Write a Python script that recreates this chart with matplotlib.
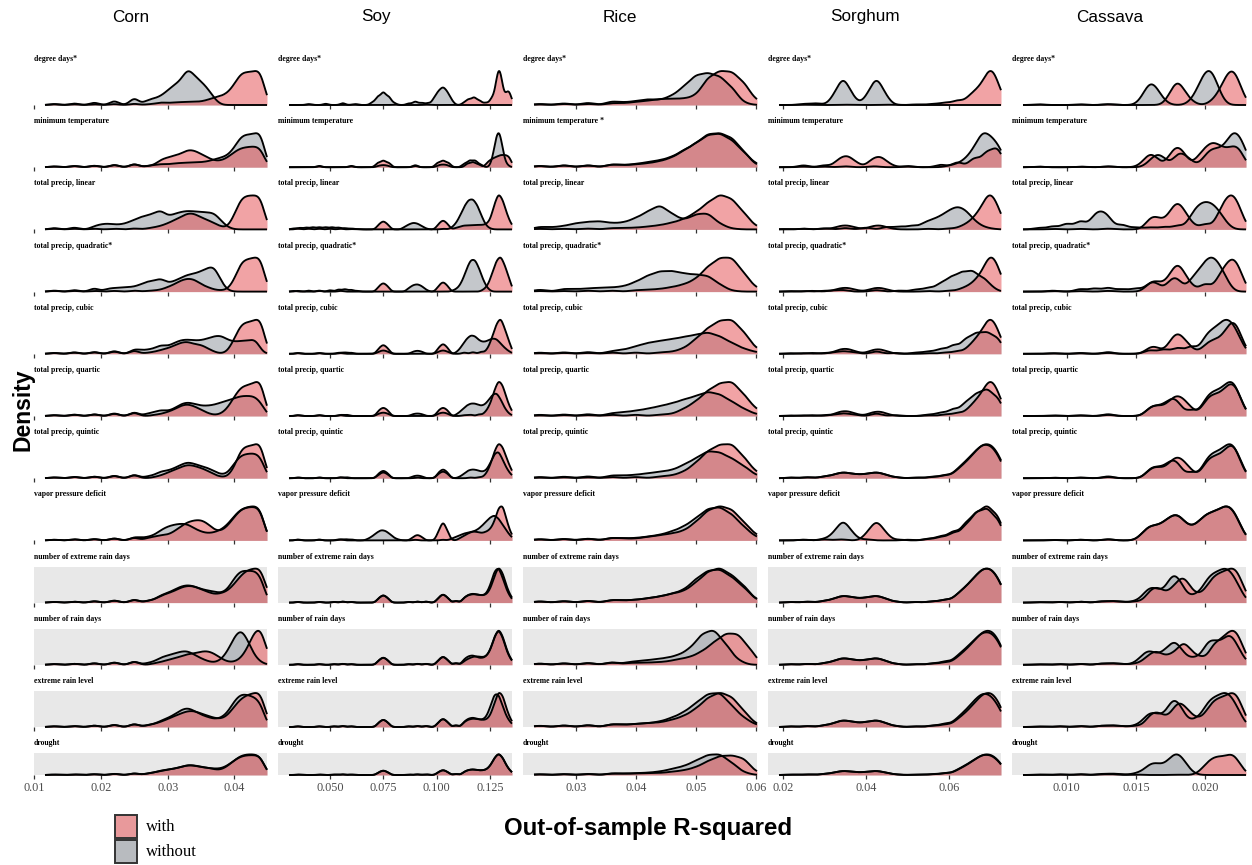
import numpy as np
import matplotlib
matplotlib.use("Agg")
import matplotlib.pyplot as plt
from matplotlib.patches import Rectangle

# ---------------------------------------------------------------------------
# Data: out-of-sample R-squared of the model runs, as (R-squared, number of runs)
# for every crop x weather variable, with and without the variable.
# ---------------------------------------------------------------------------
CROPS = ["Corn", "Soy", "Rice", "Sorghum", "Cassava"]
VARIABLES = [
    "degree days*", "minimum temperature", "total precip, linear",
    "total precip, quadratic*", "total precip, cubic", "total precip, quartic",
    "total precip, quintic", "vapor pressure deficit",
    "number of extreme rain days", "number of rain days",
    "extreme rain level", "drought",
]
RICE_MINTEMP_LABEL = "minimum temperature *"
EXTREME_VARIABLES = VARIABLES[8:]

X_TICKS = {
    "Corn": [0.01, 0.02, 0.03, 0.04],
    "Soy": [0.050, 0.075, 0.100, 0.125],
    "Rice": [0.03, 0.04, 0.05, 0.06],
    "Sorghum": [0.02, 0.04, 0.06],
    "Cassava": [0.010, 0.015, 0.020],
}
X_TICK_LABELS = {
    "Corn": ["0.01", "0.02", "0.03", "0.04"],
    "Soy": ["0.050", "0.075", "0.100", "0.125"],
    "Rice": ["0.03", "0.04", "0.05", "0.06"],
    "Sorghum": ["0.02", "0.04", "0.06"],
    "Cassava": ["0.010", "0.015", "0.020"],
}
# range covered by the runs of each crop
R2_RANGE = {
    "Corn": (0.0116, 0.0449),
    "Soy": (0.0308, 0.1353),
    "Rice": (0.0230, 0.0602),
    "Sorghum": (0.0191, 0.0724),
    "Cassava": (0.00685, 0.02294),
}

CORN_WITHOUT = [
    [(0.013, 4), (0.016, 6), (0.019, 9), (0.022, 15), (0.025, 25), (0.027, 14), (0.028, 16), (0.029, 22), (0.030, 36), (0.031, 50), (0.032, 60), (0.033, 95), (0.034, 72), (0.035, 58), (0.036, 42), (0.037, 15)],
    [(0.013, 3), (0.016, 5), (0.019, 6), (0.022, 9), (0.025, 12), (0.027, 4), (0.028, 5), (0.029, 9), (0.030, 7), (0.031, 10), (0.032, 11), (0.033, 12), (0.034, 12), (0.035, 13), (0.036, 15), (0.037, 20), (0.038, 25), (0.039, 30), (0.040, 50), (0.041, 82), (0.042, 85), (0.043, 85), (0.044, 100)],
    [(0.013, 6), (0.016, 8), (0.019, 10), (0.020, 15), (0.021, 17), (0.022, 14), (0.023, 14), (0.024, 19), (0.025, 28), (0.026, 36), (0.027, 40), (0.028, 46), (0.029, 58), (0.030, 36), (0.031, 44), (0.032, 50), (0.033, 53), (0.034, 51), (0.035, 50), (0.036, 48), (0.037, 48), (0.038, 25), (0.039, 6)],
    [(0.013, 4), (0.016, 6), (0.019, 12), (0.021, 8), (0.022, 9), (0.023, 10), (0.024, 11), (0.025, 12), (0.026, 18), (0.027, 26), (0.028, 26), (0.029, 35), (0.030, 20), (0.031, 26), (0.032, 34), (0.033, 42), (0.034, 44), (0.035, 50), (0.036, 58), (0.037, 66), (0.038, 25), (0.039, 2)],
    [(0.013, 3), (0.016, 5), (0.019, 6), (0.022, 9), (0.025, 12), (0.026, 7), (0.027, 9), (0.028, 11), (0.029, 20), (0.030, 15), (0.031, 23), (0.032, 29), (0.033, 30), (0.034, 28), (0.035, 28), (0.036, 32), (0.037, 37), (0.038, 39), (0.039, 29), (0.040, 25), (0.041, 27), (0.042, 28), (0.043, 28), (0.0435, 12)],
    [(0.013, 3), (0.016, 5), (0.019, 6), (0.022, 9), (0.025, 12), (0.027, 6), (0.028, 8), (0.029, 14), (0.030, 10), (0.031, 16), (0.032, 26), (0.033, 30), (0.034, 26), (0.035, 22), (0.036, 22), (0.037, 24), (0.038, 29), (0.039, 33), (0.040, 38), (0.041, 43), (0.042, 43), (0.043, 43), (0.044, 30)],
    [(0.013, 3), (0.016, 5), (0.019, 6), (0.022, 9), (0.025, 12), (0.027, 5), (0.028, 7), (0.029, 17), (0.030, 17), (0.031, 23), (0.032, 31), (0.033, 38), (0.034, 33), (0.035, 28), (0.036, 24), (0.037, 16), (0.038, 8), (0.039, 10), (0.040, 35), (0.041, 54), (0.042, 56), (0.043, 58), (0.044, 52)],
    [(0.013, 3), (0.016, 5), (0.019, 6), (0.022, 9), (0.025, 12), (0.026, 7), (0.027, 10), (0.028, 15), (0.029, 30), (0.030, 40), (0.031, 45), (0.032, 48), (0.033, 47), (0.034, 34), (0.035, 25), (0.036, 20), (0.037, 23), (0.038, 30), (0.039, 45), (0.040, 70), (0.041, 90), (0.042, 95), (0.043, 99), (0.044, 95)],
    [(0.013, 3), (0.016, 4), (0.019, 6), (0.022, 9), (0.025, 12), (0.027, 6), (0.028, 8), (0.029, 22), (0.030, 27), (0.031, 36), (0.032, 46), (0.033, 50), (0.034, 46), (0.035, 38), (0.036, 34), (0.037, 31), (0.038, 26), (0.039, 36), (0.040, 70), (0.041, 92), (0.042, 88), (0.043, 91), (0.044, 78)],
    [(0.013, 3), (0.016, 4), (0.019, 6), (0.022, 9), (0.025, 12), (0.027, 5), (0.028, 8), (0.029, 19), (0.030, 23), (0.031, 28), (0.032, 33), (0.033, 35), (0.034, 25), (0.035, 16), (0.036, 9), (0.037, 5), (0.038, 12), (0.039, 33), (0.040, 70), (0.041, 92), (0.042, 62), (0.043, 22), (0.044, 6)],
    [(0.013, 3), (0.016, 4), (0.019, 6), (0.022, 9), (0.025, 12), (0.027, 6), (0.028, 8), (0.029, 17), (0.030, 24), (0.031, 33), (0.032, 46), (0.033, 53), (0.034, 43), (0.035, 33), (0.036, 27), (0.037, 21), (0.038, 24), (0.039, 38), (0.040, 71), (0.041, 90), (0.042, 86), (0.043, 81), (0.044, 67)],
    [(0.013, 3), (0.016, 4), (0.019, 6), (0.022, 9), (0.025, 12), (0.027, 8), (0.028, 12), (0.029, 23), (0.030, 26), (0.031, 31), (0.032, 38), (0.033, 51), (0.034, 46), (0.035, 38), (0.036, 35), (0.037, 31), (0.038, 31), (0.039, 46), (0.040, 72), (0.041, 92), (0.042, 97), (0.043, 97), (0.044, 97)],
]
CORN_WITH = [
    [(0.013, 3), (0.016, 3), (0.019, 3), (0.022, 4), (0.025, 5), (0.027, 2), (0.028, 3), (0.029, 8), (0.030, 5), (0.031, 7), (0.032, 8), (0.033, 8), (0.034, 9), (0.035, 9), (0.036, 14), (0.037, 20), (0.038, 24), (0.039, 32), (0.040, 55), (0.041, 88), (0.042, 88), (0.043, 90), (0.044, 100)],
    [(0.013, 3), (0.016, 5), (0.019, 6), (0.022, 9), (0.025, 12), (0.027, 3), (0.028, 5), (0.029, 20), (0.030, 24), (0.031, 29), (0.032, 33), (0.033, 44), (0.034, 42), (0.035, 33), (0.036, 24), (0.037, 16), (0.038, 16), (0.039, 24), (0.040, 38), (0.041, 48), (0.042, 50), (0.043, 52), (0.044, 50)],
    [(0.013, 3), (0.016, 3), (0.019, 3), (0.022, 3), (0.025, 4), (0.027, 3), (0.028, 6), (0.029, 10), (0.030, 17), (0.031, 26), (0.032, 35), (0.033, 46), (0.034, 45), (0.035, 33), (0.036, 27), (0.037, 17), (0.038, 8), (0.039, 4), (0.040, 40), (0.041, 90), (0.042, 95), (0.043, 95), (0.044, 99)],
    [(0.013, 3), (0.016, 3), (0.019, 3), (0.022, 3), (0.025, 4), (0.027, 2), (0.028, 3), (0.029, 5), (0.030, 12), (0.031, 19), (0.032, 30), (0.033, 35), (0.034, 33), (0.035, 19), (0.036, 12), (0.037, 5), (0.038, 3), (0.039, 5), (0.040, 30), (0.041, 81), (0.042, 86), (0.043, 89), (0.044, 98)],
    [(0.013, 3), (0.016, 5), (0.019, 6), (0.022, 9), (0.025, 12), (0.027, 3), (0.028, 5), (0.029, 10), (0.030, 14), (0.031, 21), (0.032, 29), (0.033, 32), (0.034, 24), (0.035, 24), (0.036, 14), (0.037, 5), (0.039, 5), (0.040, 38), (0.041, 78), (0.042, 81), (0.043, 84), (0.044, 100)],
    [(0.013, 3), (0.016, 5), (0.019, 6), (0.022, 9), (0.025, 12), (0.028, 3), (0.029, 5), (0.030, 10), (0.031, 16), (0.032, 26), (0.033, 30), (0.034, 24), (0.035, 16), (0.036, 7), (0.037, 2), (0.038, 5), (0.039, 19), (0.040, 48), (0.041, 73), (0.042, 76), (0.043, 81), (0.044, 97)],
    [(0.013, 3), (0.016, 5), (0.019, 6), (0.022, 9), (0.025, 12), (0.028, 3), (0.029, 7), (0.030, 14), (0.031, 21), (0.032, 28), (0.033, 35), (0.034, 31), (0.035, 26), (0.036, 19), (0.037, 9), (0.038, 3), (0.039, 3), (0.040, 26), (0.041, 77), (0.042, 81), (0.043, 83), (0.044, 98)],
    [(0.013, 3), (0.016, 5), (0.019, 6), (0.022, 9), (0.025, 12), (0.027, 8), (0.028, 11), (0.029, 16), (0.030, 16), (0.031, 26), (0.032, 42), (0.033, 54), (0.034, 59), (0.035, 61), (0.036, 50), (0.037, 30), (0.038, 26), (0.039, 42), (0.040, 69), (0.041, 92), (0.042, 97), (0.043, 99), (0.044, 95)],
    [(0.013, 3), (0.016, 4), (0.019, 6), (0.022, 9), (0.025, 12), (0.027, 5), (0.028, 8), (0.029, 19), (0.030, 25), (0.031, 31), (0.032, 41), (0.033, 46), (0.034, 44), (0.035, 36), (0.036, 29), (0.037, 22), (0.038, 25), (0.039, 31), (0.040, 50), (0.041, 74), (0.042, 89), (0.043, 91), (0.044, 98), (0.045, 25)],
    [(0.013, 3), (0.016, 4), (0.019, 6), (0.022, 9), (0.025, 12), (0.028, 4), (0.029, 7), (0.030, 12), (0.031, 16), (0.032, 21), (0.033, 27), (0.034, 28), (0.035, 33), (0.036, 35), (0.037, 28), (0.038, 16), (0.039, 7), (0.040, 7), (0.041, 16), (0.042, 42), (0.043, 84), (0.044, 98), (0.045, 25)],
    [(0.013, 3), (0.016, 4), (0.019, 6), (0.022, 9), (0.025, 12), (0.027, 5), (0.028, 8), (0.029, 14), (0.030, 21), (0.031, 29), (0.032, 36), (0.033, 43), (0.034, 43), (0.035, 36), (0.036, 30), (0.037, 24), (0.038, 21), (0.039, 30), (0.040, 55), (0.041, 76), (0.042, 86), (0.043, 90), (0.044, 98), (0.045, 15)],
    [(0.013, 3), (0.016, 4), (0.019, 6), (0.022, 9), (0.025, 12), (0.027, 8), (0.028, 12), (0.029, 20), (0.030, 23), (0.031, 31), (0.032, 38), (0.033, 46), (0.034, 46), (0.035, 38), (0.036, 35), (0.037, 26), (0.038, 23), (0.039, 42), (0.040, 69), (0.041, 92), (0.042, 97), (0.043, 97), (0.044, 92)],
]

SOY_WITHOUT = [
    [(0.040, 3), (0.048, 4), (0.056, 6), (0.062, 3), (0.070, 8), (0.0725, 25), (0.075, 38), (0.0775, 25), (0.080, 6), (0.087, 5), (0.090, 11), (0.093, 7), (0.096, 6), (0.099, 20), (0.101, 34), (0.103, 44), (0.105, 32), (0.107, 12)],
    [(0.045, 2), (0.060, 2), (0.073, 3), (0.075, 4), (0.077, 3), (0.090, 3), (0.101, 4), (0.103, 5), (0.105, 4), (0.113, 8), (0.1155, 15), (0.118, 15), (0.1205, 6), (0.1265, 15), (0.128, 45), (0.1295, 55), (0.131, 20), (0.133, 4)],
    [(0.033, 3), (0.036, 5), (0.039, 6), (0.042, 7), (0.045, 7), (0.048, 7), (0.051, 7), (0.054, 6), (0.057, 4), (0.060, 3), (0.063, 1), (0.085, 6), (0.087, 12), (0.089, 16), (0.091, 14), (0.093, 8), (0.095, 2), (0.103, 2), (0.107, 4), (0.109, 14), (0.111, 32), (0.113, 55), (0.115, 70), (0.117, 72), (0.119, 58), (0.121, 32), (0.123, 10), (0.125, 2)],
    [(0.033, 2), (0.040, 3), (0.045, 3), (0.050, 4), (0.054, 6), (0.057, 7), (0.060, 5), (0.063, 2), (0.087, 8), (0.089, 14), (0.091, 16), (0.093, 12), (0.095, 4), (0.108, 3), (0.110, 8), (0.112, 22), (0.114, 48), (0.116, 68), (0.118, 68), (0.120, 48), (0.122, 22), (0.124, 6)],
    [(0.035, 2), (0.045, 2), (0.054, 3), (0.057, 4), (0.060, 3), (0.073, 5), (0.075, 8), (0.077, 5), (0.089, 5), (0.091, 7), (0.093, 5), (0.101, 5), (0.103, 8), (0.105, 5), (0.110, 6), (0.112, 18), (0.114, 32), (0.116, 40), (0.118, 38), (0.120, 28), (0.122, 25), (0.124, 28), (0.126, 33), (0.128, 32), (0.130, 22), (0.132, 12), (0.134, 5)],
    [(0.035, 2), (0.045, 2), (0.055, 3), (0.058, 3), (0.073, 5), (0.075, 7), (0.077, 5), (0.089, 4), (0.091, 5), (0.093, 4), (0.101, 5), (0.103, 7), (0.105, 5), (0.110, 5), (0.112, 12), (0.114, 20), (0.116, 24), (0.118, 24), (0.120, 20), (0.122, 20), (0.124, 28), (0.126, 40), (0.128, 45), (0.130, 32), (0.132, 14), (0.134, 4)],
    [(0.035, 2), (0.045, 2), (0.055, 3), (0.058, 3), (0.073, 10), (0.075, 16), (0.077, 10), (0.089, 5), (0.091, 7), (0.093, 5), (0.101, 12), (0.103, 18), (0.105, 12), (0.111, 4), (0.113, 12), (0.115, 20), (0.117, 22), (0.119, 20), (0.121, 16), (0.123, 18), (0.125, 35), (0.127, 60), (0.129, 68), (0.131, 45), (0.133, 22), (0.135, 8)],
    [(0.035, 2), (0.045, 2), (0.054, 3), (0.057, 4), (0.060, 3), (0.068, 4), (0.070, 10), (0.072, 18), (0.074, 24), (0.076, 22), (0.078, 15), (0.080, 6), (0.082, 2), (0.090, 2), (0.103, 2), (0.107, 4), (0.109, 8), (0.111, 12), (0.113, 16), (0.115, 18), (0.117, 20), (0.119, 24), (0.121, 32), (0.123, 42), (0.125, 52), (0.127, 58), (0.129, 50), (0.131, 35), (0.133, 20), (0.135, 8)],
    [(0.035, 2), (0.045, 2), (0.052, 2), (0.056, 3), (0.060, 2), (0.073, 11), (0.075, 18), (0.077, 11), (0.087, 2), (0.091, 3), (0.095, 3), (0.101, 12), (0.103, 20), (0.105, 12), (0.109, 5), (0.113, 12), (0.115, 18), (0.117, 20), (0.119, 18), (0.121, 16), (0.123, 18), (0.125, 36), (0.127, 70), (0.129, 80), (0.131, 54), (0.133, 25), (0.135, 9)],
    [(0.035, 2), (0.045, 2), (0.052, 2), (0.056, 3), (0.060, 2), (0.073, 11), (0.075, 18), (0.077, 11), (0.087, 2), (0.091, 3), (0.095, 3), (0.101, 12), (0.103, 20), (0.105, 12), (0.109, 5), (0.113, 14), (0.115, 20), (0.117, 22), (0.119, 17), (0.121, 15), (0.123, 18), (0.125, 32), (0.127, 64), (0.129, 82), (0.131, 62), (0.133, 28), (0.135, 10)],
    [(0.035, 2), (0.045, 2), (0.052, 2), (0.056, 3), (0.060, 2), (0.073, 11), (0.075, 18), (0.077, 11), (0.087, 2), (0.091, 3), (0.095, 3), (0.101, 12), (0.103, 20), (0.105, 12), (0.109, 5), (0.113, 13), (0.115, 19), (0.117, 21), (0.119, 18), (0.121, 16), (0.123, 20), (0.125, 42), (0.127, 74), (0.129, 74), (0.131, 45), (0.133, 20), (0.135, 8)],
    [(0.035, 2), (0.045, 2), (0.052, 2), (0.056, 3), (0.060, 2), (0.073, 11), (0.075, 18), (0.077, 11), (0.087, 2), (0.091, 3), (0.095, 3), (0.101, 12), (0.103, 20), (0.105, 12), (0.109, 5), (0.113, 13), (0.115, 19), (0.117, 21), (0.119, 18), (0.121, 17), (0.123, 19), (0.125, 32), (0.127, 62), (0.129, 82), (0.131, 64), (0.133, 30), (0.135, 11)],
]
SOY_WITH = [
    [(0.040, 1), (0.060, 1), (0.080, 1), (0.095, 1), (0.113, 6), (0.115, 14), (0.1175, 20), (0.120, 12), (0.123, 6), (0.126, 18), (0.1285, 62), (0.1300, 62), (0.1325, 18), (0.1340, 30)],
    [(0.045, 2), (0.060, 2), (0.0725, 6), (0.075, 9), (0.0775, 6), (0.090, 3), (0.1005, 6), (0.103, 9), (0.1055, 6), (0.1145, 5), (0.117, 7), (0.1195, 4), (0.124, 6), (0.126, 9), (0.128, 11), (0.130, 13), (0.132, 13), (0.134, 12)],
    [(0.035, 2), (0.040, 2), (0.045, 2), (0.050, 2), (0.055, 2), (0.060, 1), (0.073, 11), (0.075, 18), (0.077, 11), (0.101, 12), (0.103, 20), (0.105, 12), (0.109, 3), (0.111, 6), (0.113, 8), (0.115, 8), (0.117, 9), (0.119, 9), (0.121, 9), (0.123, 10), (0.125, 18), (0.127, 50), (0.129, 75), (0.131, 60), (0.133, 30), (0.135, 10)],
    [(0.035, 2), (0.045, 2), (0.055, 2), (0.073, 11), (0.075, 18), (0.077, 11), (0.101, 12), (0.103, 20), (0.105, 12), (0.122, 4), (0.124, 12), (0.126, 35), (0.128, 60), (0.130, 70), (0.132, 50), (0.134, 25)],
    [(0.035, 2), (0.045, 2), (0.055, 2), (0.073, 11), (0.075, 18), (0.077, 11), (0.101, 12), (0.103, 20), (0.105, 12), (0.113, 3), (0.117, 4), (0.121, 5), (0.124, 10), (0.126, 30), (0.128, 55), (0.130, 68), (0.132, 45), (0.134, 22)],
    [(0.035, 2), (0.045, 2), (0.055, 2), (0.073, 11), (0.075, 16), (0.077, 11), (0.101, 11), (0.103, 16), (0.105, 11), (0.113, 2), (0.116, 3), (0.120, 4), (0.123, 8), (0.125, 20), (0.127, 45), (0.129, 65), (0.131, 55), (0.133, 28), (0.135, 10)],
    [(0.035, 2), (0.045, 2), (0.055, 2), (0.073, 11), (0.075, 17), (0.077, 11), (0.091, 2), (0.101, 13), (0.103, 20), (0.105, 13), (0.116, 2), (0.120, 3), (0.123, 8), (0.125, 25), (0.127, 55), (0.129, 75), (0.131, 65), (0.133, 38), (0.135, 18)],
    [(0.035, 2), (0.045, 2), (0.055, 2), (0.089, 6), (0.091, 10), (0.093, 6), (0.101, 16), (0.103, 34), (0.105, 16), (0.111, 4), (0.113, 8), (0.115, 12), (0.117, 15), (0.119, 14), (0.121, 12), (0.123, 14), (0.125, 18), (0.127, 30), (0.129, 55), (0.131, 60), (0.133, 30), (0.135, 10)],
    [(0.035, 2), (0.045, 2), (0.052, 2), (0.056, 3), (0.060, 2), (0.073, 11), (0.075, 18), (0.077, 11), (0.087, 2), (0.091, 3), (0.095, 3), (0.101, 12), (0.103, 20), (0.105, 12), (0.109, 5), (0.113, 12), (0.115, 17), (0.117, 19), (0.119, 18), (0.121, 16), (0.123, 17), (0.125, 28), (0.127, 58), (0.129, 82), (0.131, 66), (0.133, 32), (0.135, 12)],
    [(0.035, 2), (0.045, 2), (0.052, 2), (0.056, 3), (0.060, 2), (0.073, 11), (0.075, 18), (0.077, 11), (0.087, 2), (0.091, 3), (0.095, 3), (0.101, 12), (0.103, 20), (0.105, 12), (0.109, 5), (0.113, 9), (0.115, 14), (0.117, 18), (0.119, 19), (0.121, 17), (0.123, 18), (0.125, 30), (0.127, 60), (0.129, 82), (0.131, 64), (0.133, 30), (0.135, 11)],
    [(0.035, 2), (0.045, 2), (0.052, 2), (0.056, 3), (0.060, 2), (0.073, 11), (0.075, 18), (0.077, 11), (0.087, 2), (0.091, 3), (0.095, 3), (0.101, 12), (0.103, 20), (0.105, 12), (0.109, 5), (0.113, 12), (0.115, 17), (0.117, 19), (0.119, 18), (0.121, 16), (0.123, 16), (0.125, 24), (0.127, 52), (0.129, 82), (0.131, 72), (0.133, 36), (0.135, 14)],
    [(0.035, 2), (0.045, 2), (0.052, 2), (0.056, 3), (0.060, 2), (0.073, 11), (0.075, 18), (0.077, 11), (0.087, 2), (0.091, 3), (0.095, 3), (0.101, 12), (0.103, 20), (0.105, 12), (0.109, 5), (0.113, 13), (0.115, 19), (0.117, 21), (0.119, 18), (0.121, 17), (0.123, 19), (0.125, 32), (0.127, 62), (0.129, 82), (0.131, 64), (0.133, 30), (0.135, 11)],
]

RICE_WITHOUT = [
    [(0.024, 4), (0.028, 6), (0.032, 8), (0.036, 12), (0.038, 8), (0.040, 12), (0.042, 18), (0.044, 15), (0.046, 28), (0.048, 56), (0.050, 92), (0.052, 98), (0.054, 88), (0.056, 55), (0.058, 6)],
    [(0.024, 4), (0.028, 6), (0.032, 6), (0.036, 8), (0.038, 6), (0.040, 9), (0.042, 14), (0.044, 19), (0.046, 28), (0.048, 47), (0.050, 65), (0.052, 89), (0.054, 93), (0.056, 75), (0.058, 42), (0.060, 9)],
    [(0.024, 8), (0.026, 6), (0.028, 10), (0.030, 18), (0.032, 22), (0.034, 24), (0.036, 18), (0.038, 20), (0.040, 33), (0.042, 52), (0.044, 72), (0.046, 45), (0.048, 26), (0.050, 44), (0.052, 48), (0.054, 16), (0.056, 2)],
    [(0.024, 6), (0.028, 8), (0.030, 6), (0.032, 9), (0.034, 10), (0.036, 11), (0.038, 14), (0.040, 26), (0.042, 43), (0.044, 54), (0.046, 55), (0.048, 48), (0.050, 45), (0.052, 43), (0.054, 19), (0.056, 2)],
    [(0.024, 4), (0.028, 5), (0.032, 6), (0.036, 8), (0.038, 11), (0.040, 21), (0.042, 30), (0.044, 35), (0.046, 40), (0.048, 46), (0.050, 52), (0.052, 59), (0.054, 48), (0.056, 30), (0.058, 14), (0.060, 5)],
    [(0.024, 4), (0.028, 5), (0.032, 6), (0.036, 8), (0.038, 10), (0.040, 14), (0.042, 19), (0.044, 26), (0.046, 33), (0.048, 43), (0.050, 52), (0.052, 64), (0.054, 57), (0.056, 38), (0.058, 19), (0.060, 5)],
    [(0.024, 4), (0.028, 5), (0.032, 6), (0.036, 8), (0.038, 7), (0.040, 9), (0.042, 13), (0.044, 17), (0.046, 21), (0.048, 35), (0.050, 52), (0.052, 72), (0.054, 68), (0.056, 52), (0.058, 33), (0.060, 8)],
    [(0.024, 4), (0.028, 5), (0.032, 6), (0.036, 8), (0.038, 6), (0.040, 7), (0.042, 11), (0.044, 16), (0.046, 26), (0.048, 40), (0.050, 64), (0.052, 92), (0.054, 97), (0.056, 76), (0.058, 40), (0.060, 10)],
    [(0.024, 4), (0.028, 5), (0.032, 6), (0.036, 8), (0.038, 6), (0.040, 8), (0.042, 12), (0.044, 17), (0.046, 25), (0.048, 35), (0.050, 66), (0.052, 90), (0.054, 94), (0.056, 72), (0.058, 44), (0.060, 8)],
    [(0.024, 4), (0.028, 5), (0.032, 6), (0.036, 8), (0.039, 8), (0.041, 11), (0.043, 14), (0.045, 18), (0.047, 25), (0.049, 42), (0.051, 82), (0.053, 95), (0.055, 55), (0.057, 12)],
    [(0.024, 4), (0.028, 5), (0.032, 6), (0.036, 8), (0.038, 6), (0.040, 8), (0.042, 10), (0.044, 14), (0.046, 24), (0.048, 38), (0.050, 62), (0.052, 86), (0.054, 90), (0.056, 55), (0.058, 24), (0.060, 6)],
    [(0.024, 4), (0.028, 5), (0.032, 6), (0.036, 8), (0.038, 6), (0.040, 8), (0.042, 10), (0.044, 15), (0.046, 26), (0.048, 38), (0.050, 62), (0.052, 88), (0.054, 92), (0.056, 54), (0.058, 11)],
]
RICE_WITH = [
    [(0.024, 2), (0.028, 4), (0.032, 4), (0.036, 6), (0.038, 5), (0.040, 9), (0.042, 12), (0.044, 17), (0.046, 18), (0.048, 18), (0.050, 26), (0.052, 78), (0.054, 97), (0.056, 95), (0.058, 65), (0.060, 14)],
    [(0.024, 4), (0.028, 6), (0.032, 6), (0.036, 8), (0.038, 5), (0.040, 7), (0.042, 10), (0.044, 15), (0.046, 24), (0.048, 42), (0.050, 60), (0.052, 84), (0.054, 86), (0.056, 75), (0.058, 40), (0.060, 5)],
    [(0.024, 2), (0.028, 2), (0.032, 3), (0.036, 4), (0.038, 4), (0.040, 5), (0.042, 8), (0.044, 12), (0.046, 19), (0.048, 29), (0.050, 48), (0.052, 76), (0.054, 100), (0.056, 88), (0.058, 48), (0.060, 8)],
    [(0.024, 2), (0.028, 2), (0.032, 3), (0.036, 3), (0.040, 4), (0.042, 5), (0.044, 7), (0.046, 12), (0.048, 19), (0.050, 33), (0.052, 67), (0.054, 90), (0.056, 92), (0.058, 50), (0.060, 10)],
    [(0.024, 2), (0.028, 3), (0.032, 3), (0.036, 4), (0.040, 4), (0.044, 4), (0.046, 5), (0.048, 14), (0.050, 38), (0.052, 67), (0.054, 86), (0.056, 90), (0.058, 57), (0.060, 14)],
    [(0.024, 2), (0.028, 3), (0.032, 3), (0.036, 4), (0.040, 4), (0.044, 4), (0.046, 5), (0.048, 19), (0.050, 38), (0.052, 67), (0.054, 86), (0.056, 92), (0.058, 57), (0.060, 19)],
    [(0.024, 2), (0.028, 3), (0.032, 3), (0.036, 4), (0.040, 4), (0.044, 5), (0.046, 7), (0.048, 17), (0.050, 40), (0.052, 72), (0.054, 88), (0.056, 91), (0.058, 56), (0.060, 17)],
    [(0.024, 4), (0.028, 5), (0.032, 6), (0.036, 8), (0.038, 5), (0.040, 5), (0.042, 10), (0.044, 14), (0.046, 19), (0.048, 26), (0.050, 50), (0.052, 83), (0.054, 95), (0.056, 86), (0.058, 50), (0.060, 16)],
    [(0.024, 4), (0.028, 5), (0.032, 6), (0.036, 8), (0.038, 6), (0.040, 8), (0.042, 12), (0.044, 17), (0.046, 25), (0.048, 31), (0.050, 55), (0.052, 86), (0.054, 97), (0.056, 76), (0.058, 48), (0.060, 8)],
    [(0.024, 4), (0.028, 5), (0.032, 6), (0.036, 8), (0.039, 6), (0.041, 6), (0.043, 7), (0.045, 9), (0.047, 16), (0.049, 22), (0.051, 38), (0.053, 65), (0.055, 91), (0.057, 91), (0.059, 47)],
    [(0.024, 4), (0.028, 5), (0.032, 6), (0.036, 8), (0.038, 6), (0.040, 8), (0.042, 10), (0.044, 12), (0.046, 19), (0.048, 29), (0.050, 48), (0.052, 78), (0.054, 93), (0.056, 81), (0.058, 43), (0.060, 8)],
    [(0.024, 4), (0.028, 5), (0.032, 6), (0.036, 8), (0.038, 6), (0.040, 8), (0.042, 9), (0.044, 10), (0.046, 16), (0.048, 23), (0.050, 38), (0.052, 69), (0.054, 95), (0.056, 97), (0.058, 85), (0.060, 15)],
]

SORGHUM_WITHOUT = [
    [(0.025, 2), (0.028, 3), (0.0325, 14), (0.0345, 38), (0.0365, 14), (0.0405, 14), (0.0425, 38), (0.0445, 14)],
    [(0.025, 2), (0.030, 2), (0.035, 3), (0.042, 3), (0.050, 2), (0.060, 4), (0.062, 8), (0.064, 20), (0.066, 45), (0.068, 85), (0.070, 70), (0.072, 50)],
    [(0.020, 2), (0.025, 4), (0.030, 5), (0.035, 7), (0.040, 9), (0.045, 12), (0.048, 14), (0.051, 18), (0.054, 26), (0.056, 34), (0.058, 46), (0.060, 66), (0.062, 80), (0.064, 66), (0.066, 30), (0.068, 10), (0.070, 3)],
    [(0.022, 2), (0.027, 3), (0.032, 4), (0.0345, 6), (0.0425, 6), (0.048, 4), (0.052, 8), (0.055, 15), (0.058, 30), (0.0605, 50), (0.063, 65), (0.0655, 70), (0.068, 45), (0.070, 15)],
    [(0.022, 2), (0.027, 3), (0.032, 4), (0.0345, 8), (0.037, 5), (0.0425, 8), (0.047, 3), (0.052, 4), (0.055, 8), (0.058, 16), (0.061, 28), (0.064, 45), (0.0665, 60), (0.069, 62), (0.0715, 48)],
    [(0.022, 2), (0.027, 3), (0.032, 4), (0.0345, 9), (0.037, 5), (0.0425, 9), (0.047, 3), (0.055, 5), (0.058, 12), (0.061, 25), (0.064, 45), (0.0665, 70), (0.069, 85), (0.0715, 60)],
    [(0.022, 2), (0.026, 3), (0.030, 5), (0.0325, 9), (0.0345, 14), (0.0365, 10), (0.0385, 8), (0.0405, 10), (0.0425, 14), (0.0445, 9), (0.047, 3), (0.052, 2), (0.056, 5), (0.059, 10), (0.062, 22), (0.064, 38), (0.066, 58), (0.068, 76), (0.070, 74), (0.072, 48)],
    [(0.025, 2), (0.030, 4), (0.0325, 18), (0.0345, 45), (0.0365, 18), (0.040, 3), (0.050, 2), (0.055, 5), (0.058, 12), (0.061, 25), (0.064, 45), (0.0665, 70), (0.069, 80), (0.0715, 55)],
    [(0.022, 2), (0.026, 3), (0.030, 5), (0.0325, 10), (0.0345, 16), (0.0365, 12), (0.0385, 9), (0.0405, 12), (0.0425, 16), (0.0445, 10), (0.047, 3), (0.052, 2), (0.056, 4), (0.059, 9), (0.062, 20), (0.064, 35), (0.066, 55), (0.068, 75), (0.070, 75), (0.072, 50)],
    [(0.022, 2), (0.026, 3), (0.030, 5), (0.0325, 10), (0.0345, 16), (0.0365, 12), (0.0385, 9), (0.0405, 12), (0.0425, 16), (0.0445, 10), (0.047, 3), (0.052, 2), (0.056, 5), (0.059, 11), (0.062, 22), (0.064, 37), (0.066, 56), (0.068, 74), (0.070, 74), (0.072, 52)],
    [(0.022, 2), (0.026, 3), (0.030, 5), (0.0325, 10), (0.0345, 16), (0.0365, 12), (0.0385, 9), (0.0405, 12), (0.0425, 16), (0.0445, 10), (0.047, 3), (0.052, 2), (0.056, 5), (0.059, 11), (0.062, 22), (0.064, 38), (0.066, 60), (0.068, 78), (0.070, 72), (0.072, 45)],
    [(0.022, 2), (0.026, 3), (0.030, 5), (0.0325, 10), (0.0345, 16), (0.0365, 12), (0.0385, 9), (0.0405, 12), (0.0425, 16), (0.0445, 10), (0.047, 3), (0.052, 2), (0.056, 5), (0.059, 10), (0.062, 21), (0.064, 36), (0.066, 56), (0.068, 75), (0.070, 74), (0.072, 50)],
]
SORGHUM_WITH = [
    [(0.025, 1), (0.035, 1), (0.045, 1), (0.052, 2), (0.056, 4), (0.059, 8), (0.062, 15), (0.065, 25), (0.067, 40), (0.069, 65), (0.0705, 70), (0.072, 30)],
    [(0.025, 3), (0.030, 3), (0.0335, 10), (0.0355, 14), (0.0375, 6), (0.0415, 10), (0.0435, 13), (0.0455, 4), (0.050, 2), (0.058, 4), (0.062, 8), (0.066, 14), (0.069, 22), (0.0715, 28)],
    [(0.025, 2), (0.030, 3), (0.0335, 8), (0.0355, 10), (0.0375, 4), (0.0415, 8), (0.0435, 10), (0.0455, 3), (0.055, 2), (0.060, 3), (0.063, 8), (0.065, 18), (0.067, 40), (0.069, 70), (0.0705, 60), (0.072, 35)],
    [(0.025, 2), (0.030, 3), (0.0335, 8), (0.0355, 10), (0.0375, 4), (0.0415, 8), (0.0435, 10), (0.0455, 3), (0.055, 2), (0.060, 3), (0.063, 8), (0.065, 16), (0.067, 35), (0.069, 65), (0.0705, 70), (0.072, 40)],
    [(0.025, 2), (0.030, 3), (0.0335, 10), (0.0355, 12), (0.0375, 5), (0.0415, 9), (0.0435, 11), (0.0455, 3), (0.055, 2), (0.059, 4), (0.062, 8), (0.065, 20), (0.067, 40), (0.069, 65), (0.0705, 60), (0.072, 35)],
    [(0.025, 2), (0.030, 3), (0.0335, 10), (0.0355, 12), (0.0375, 5), (0.0415, 9), (0.0435, 11), (0.0455, 3), (0.055, 2), (0.059, 5), (0.062, 10), (0.065, 22), (0.067, 42), (0.069, 66), (0.0705, 62), (0.072, 38)],
    [(0.022, 2), (0.026, 3), (0.030, 5), (0.0325, 9), (0.0345, 14), (0.0365, 10), (0.0385, 8), (0.0405, 10), (0.0425, 14), (0.0445, 9), (0.047, 3), (0.052, 2), (0.056, 4), (0.059, 9), (0.062, 20), (0.064, 35), (0.066, 56), (0.068, 76), (0.070, 76), (0.072, 52)],
    [(0.025, 2), (0.030, 3), (0.034, 3), (0.0405, 18), (0.0425, 45), (0.0445, 18), (0.048, 2), (0.055, 4), (0.058, 10), (0.061, 22), (0.064, 40), (0.0665, 70), (0.069, 88), (0.0715, 65)],
    [(0.022, 2), (0.026, 3), (0.030, 5), (0.0325, 10), (0.0345, 16), (0.0365, 12), (0.0385, 9), (0.0405, 12), (0.0425, 16), (0.0445, 10), (0.047, 3), (0.052, 2), (0.056, 4), (0.059, 9), (0.062, 20), (0.064, 35), (0.066, 55), (0.068, 75), (0.070, 76), (0.072, 52)],
    [(0.022, 2), (0.026, 3), (0.030, 5), (0.0325, 10), (0.0345, 16), (0.0365, 12), (0.0385, 9), (0.0405, 12), (0.0425, 16), (0.0445, 10), (0.047, 3), (0.052, 2), (0.056, 4), (0.059, 8), (0.062, 18), (0.064, 33), (0.066, 53), (0.068, 74), (0.070, 78), (0.072, 55)],
    [(0.022, 2), (0.026, 3), (0.030, 5), (0.0325, 10), (0.0345, 16), (0.0365, 12), (0.0385, 9), (0.0405, 12), (0.0425, 16), (0.0445, 10), (0.047, 3), (0.052, 2), (0.056, 4), (0.059, 8), (0.062, 18), (0.064, 32), (0.066, 52), (0.068, 73), (0.070, 78), (0.072, 56)],
    [(0.022, 2), (0.026, 3), (0.030, 5), (0.0325, 10), (0.0345, 16), (0.0365, 12), (0.0385, 9), (0.0405, 12), (0.0425, 16), (0.0445, 10), (0.047, 3), (0.052, 2), (0.056, 4), (0.059, 9), (0.062, 19), (0.064, 34), (0.066, 54), (0.068, 75), (0.070, 76), (0.072, 52)],
]

CASSAVA_WITHOUT = [
    [(0.008, 2), (0.011, 2), (0.013, 3), (0.0155, 20), (0.016, 60), (0.0165, 40), (0.017, 10), (0.019, 10), (0.0195, 40), (0.020, 80), (0.0205, 85), (0.021, 30)],
    [(0.008, 2), (0.011, 2), (0.013, 3), (0.016, 15), (0.0165, 35), (0.017, 25), (0.018, 40), (0.0185, 30), (0.019, 15), (0.020, 30), (0.0205, 45), (0.021, 40), (0.0215, 50), (0.022, 90), (0.0225, 70), (0.0229, 30)],
    [(0.008, 6), (0.009, 12), (0.010, 22), (0.011, 32), (0.012, 40), (0.0125, 42), (0.013, 36), (0.014, 18), (0.015, 8), (0.016, 8), (0.017, 10), (0.018, 15), (0.019, 35), (0.0195, 55), (0.020, 62), (0.0205, 58), (0.021, 42), (0.0215, 15)],
    [(0.009, 3), (0.011, 8), (0.012, 10), (0.013, 12), (0.014, 8), (0.015, 10), (0.016, 20), (0.0165, 18), (0.0175, 25), (0.018, 30), (0.019, 25), (0.0195, 35), (0.020, 55), (0.0205, 65), (0.021, 50), (0.0215, 25)],
    [(0.009, 2), (0.011, 3), (0.013, 6), (0.016, 12), (0.017, 15), (0.018, 20), (0.019, 25), (0.020, 40), (0.0205, 45), (0.021, 55), (0.0215, 70), (0.022, 60), (0.0225, 30)],
    [(0.009, 2), (0.011, 3), (0.013, 8), (0.016, 25), (0.0165, 25), (0.017, 25), (0.0175, 45), (0.018, 45), (0.019, 25), (0.020, 45), (0.0205, 60), (0.021, 60), (0.0215, 75), (0.022, 95), (0.0225, 45)],
    [(0.009, 2), (0.011, 3), (0.013, 8), (0.016, 28), (0.0165, 28), (0.017, 25), (0.0175, 45), (0.018, 48), (0.019, 25), (0.020, 45), (0.0205, 62), (0.021, 62), (0.0215, 78), (0.022, 92), (0.0225, 42)],
    [(0.009, 2), (0.011, 3), (0.013, 5), (0.0155, 20), (0.016, 40), (0.0165, 35), (0.017, 45), (0.0175, 60), (0.018, 70), (0.0185, 45), (0.019, 30), (0.0195, 45), (0.020, 65), (0.0205, 70), (0.021, 75), (0.0215, 90), (0.022, 80), (0.0225, 40)],
    [(0.008, 2), (0.0095, 3), (0.011, 4), (0.0125, 5), (0.0133, 6), (0.014, 3), (0.015, 6), (0.0157, 30), (0.0162, 45), (0.0168, 35), (0.0175, 75), (0.0180, 70), (0.0185, 30), (0.0193, 28), (0.0200, 55), (0.0205, 72), (0.0210, 75), (0.0215, 90), (0.0220, 70), (0.0225, 35)],
    [(0.008, 2), (0.0095, 3), (0.011, 4), (0.0125, 5), (0.0133, 6), (0.014, 3), (0.015, 6), (0.0155, 28), (0.016, 45), (0.0166, 30), (0.0172, 50), (0.0178, 82), (0.0184, 40), (0.0192, 28), (0.0200, 55), (0.0205, 75), (0.0211, 70), (0.0217, 95), (0.0222, 60), (0.0227, 20)],
    [(0.008, 2), (0.0095, 3), (0.011, 4), (0.0125, 5), (0.0133, 6), (0.014, 3), (0.015, 6), (0.0157, 28), (0.0162, 42), (0.0168, 35), (0.0175, 72), (0.0180, 70), (0.0185, 30), (0.0193, 28), (0.0200, 55), (0.0205, 72), (0.0210, 75), (0.0215, 90), (0.0220, 70), (0.0225, 35)],
    [(0.008, 2), (0.0095, 3), (0.011, 4), (0.0125, 5), (0.0133, 6), (0.014, 3), (0.015, 6), (0.0155, 10), (0.016, 35), (0.0165, 35), (0.017, 25), (0.0175, 50), (0.018, 70), (0.0185, 40), (0.019, 8)],
]
CASSAVA_WITH = [
    [(0.008, 2), (0.011, 2), (0.013, 3), (0.0175, 30), (0.018, 70), (0.0185, 30), (0.019, 10), (0.0205, 10), (0.021, 30), (0.0215, 70), (0.022, 95), (0.0225, 50)],
    [(0.008, 2), (0.011, 2), (0.013, 3), (0.0155, 10), (0.016, 35), (0.0165, 20), (0.0175, 30), (0.018, 50), (0.0185, 30), (0.0195, 25), (0.020, 40), (0.0205, 55), (0.021, 45), (0.0215, 35), (0.022, 45), (0.0225, 45)],
    [(0.009, 2), (0.011, 2), (0.013, 3), (0.016, 30), (0.0165, 30), (0.017, 15), (0.0175, 40), (0.018, 70), (0.0185, 40), (0.019, 15), (0.020, 20), (0.021, 40), (0.0215, 70), (0.022, 85), (0.0225, 50)],
    [(0.009, 2), (0.011, 2), (0.013, 3), (0.016, 25), (0.0165, 25), (0.017, 15), (0.0175, 40), (0.018, 75), (0.0185, 40), (0.019, 15), (0.020, 30), (0.021, 40), (0.0215, 60), (0.022, 85), (0.0225, 55)],
    [(0.009, 2), (0.011, 2), (0.013, 4), (0.016, 20), (0.0165, 20), (0.0175, 35), (0.018, 60), (0.0185, 35), (0.019, 15), (0.020, 25), (0.0205, 35), (0.021, 35), (0.0215, 55), (0.022, 95), (0.0225, 55)],
    [(0.009, 2), (0.011, 2), (0.013, 5), (0.016, 25), (0.0165, 28), (0.017, 20), (0.0175, 40), (0.018, 55), (0.0185, 40), (0.019, 20), (0.020, 40), (0.0205, 55), (0.021, 50), (0.0215, 70), (0.022, 90), (0.0225, 50)],
    [(0.009, 2), (0.011, 2), (0.013, 5), (0.016, 25), (0.0165, 30), (0.017, 20), (0.0175, 40), (0.018, 58), (0.0185, 40), (0.019, 20), (0.020, 40), (0.0205, 55), (0.021, 52), (0.0215, 70), (0.022, 92), (0.0225, 48)],
    [(0.009, 2), (0.011, 3), (0.013, 5), (0.0155, 20), (0.016, 40), (0.0165, 35), (0.017, 45), (0.0175, 60), (0.018, 70), (0.0185, 45), (0.019, 30), (0.0195, 45), (0.020, 65), (0.0205, 70), (0.021, 75), (0.0215, 90), (0.022, 82), (0.0225, 42)],
    [(0.008, 2), (0.0095, 3), (0.011, 4), (0.0125, 5), (0.0133, 6), (0.014, 3), (0.015, 5), (0.0160, 35), (0.0165, 42), (0.0170, 30), (0.0177, 50), (0.0183, 78), (0.0188, 50), (0.0195, 28), (0.0202, 50), (0.0207, 70), (0.0212, 75), (0.0217, 82), (0.0222, 95), (0.0227, 45)],
    [(0.008, 2), (0.0095, 3), (0.011, 4), (0.0125, 5), (0.0133, 6), (0.014, 3), (0.015, 5), (0.0158, 25), (0.0164, 45), (0.0170, 28), (0.0177, 40), (0.0184, 78), (0.0190, 40), (0.0197, 28), (0.0206, 70), (0.0212, 68), (0.0217, 80), (0.0222, 96), (0.0227, 45)],
    [(0.008, 2), (0.0095, 3), (0.011, 4), (0.0125, 5), (0.0133, 6), (0.014, 3), (0.015, 5), (0.0160, 35), (0.0165, 40), (0.0170, 30), (0.0177, 48), (0.0182, 75), (0.0188, 50), (0.0195, 28), (0.0202, 50), (0.0207, 70), (0.0212, 72), (0.0217, 80), (0.0222, 95), (0.0227, 45)],
    [(0.008, 2), (0.0095, 3), (0.011, 4), (0.0125, 4), (0.0133, 5), (0.015, 3), (0.018, 2), (0.0195, 5), (0.020, 40), (0.0205, 65), (0.021, 70), (0.0215, 65), (0.022, 90), (0.0225, 40)],
]

RUNS_WITH = {"Corn": CORN_WITH, "Soy": SOY_WITH, "Rice": RICE_WITH,
             "Sorghum": SORGHUM_WITH, "Cassava": CASSAVA_WITH}
RUNS_WITHOUT = {"Corn": CORN_WITHOUT, "Soy": SOY_WITHOUT, "Rice": RICE_WITHOUT,
                "Sorghum": SORGHUM_WITHOUT, "Cassava": CASSAVA_WITHOUT}

# kernel bandwidth of the density estimate for each crop
BANDWIDTH = {"Corn": 0.0007, "Soy": 0.0012, "Rice": 0.0011,
             "Sorghum": 0.0013, "Cassava": 0.0004}

# ---------------------------------------------------------------------------
# Layout (pixels of a 1252 x 865 canvas)
# ---------------------------------------------------------------------------
W, H = 1252, 865
COL_SPAN_PX = [(34, 267), (278, 512), (523, 757), (768, 1001), (1012, 1246)]
TITLE_X_PX = [131, 376, 620, 865, 1110]
ROW_PITCH = 62.2
FIRST_LABEL_Y = 59
LAST_BOTTOM_Y = 775

COLOR_WITH = "#E5494D"
COLOR_WITHOUT = "#8B9199"
FILL_ALPHA = 0.5
BAND_COLOR = "#E8E8E8"
SERIF = ["Liberation Serif", "DejaVu Serif"]
SANS = ["Liberation Sans", "DejaVu Sans"]


def density(runs, bw, grid):
    vals = np.array([v for v, _ in runs])
    counts = np.array([c for _, c in runs], dtype=float)
    z = (grid[:, None] - vals[None, :]) / bw
    k = np.exp(-0.5 * z ** 2) / (bw * np.sqrt(2 * np.pi))
    return (k * counts[None, :]).sum(axis=1) / counts.sum()


def px_rect(left, top, right, bottom):
    return [left / W, 1 - bottom / H, (right - left) / W, (bottom - top) / H]


fig = plt.figure(figsize=(W / 100, H / 100), dpi=100)
fig.patch.set_facecolor("white")

for ci, crop in enumerate(CROPS):
    left_px, right_px = COL_SPAN_PX[ci]
    lo, hi = R2_RANGE[crop]
    # axis spans a little to the left of the first run, as in the ridgeline layout
    span = (hi - lo) / (right_px - left_px - 11)
    x_left = lo - 11 * span
    grid = np.linspace(lo, hi, 600)
    bw = BANDWIDTH[crop]

    fig.text(TITLE_X_PX[ci] / W, 1 - 17 / H, crop, ha="center", va="center",
             fontsize=12.3, family=SANS)

    for ri, var in enumerate(VARIABLES):
        label_y = FIRST_LABEL_Y + ROW_PITCH * ri
        top = label_y + 10
        bottom = label_y + 46 if ri < len(VARIABLES) - 1 else LAST_BOTTOM_Y
        ax = fig.add_axes(px_rect(left_px, top, right_px, bottom))
        ax.set_facecolor(BAND_COLOR if var in EXTREME_VARIABLES else "white")
        for s in ax.spines.values():
            s.set_visible(False)

        y_wo = density(RUNS_WITHOUT[crop][ri], bw, grid)
        y_w = density(RUNS_WITH[crop][ri], bw, grid)
        for y, col in ((y_wo, COLOR_WITHOUT), (y_w, COLOR_WITH)):
            ax.fill_between(grid, 0, y, color=col, alpha=FILL_ALPHA, lw=0)
            ax.plot(grid, y, color="black", lw=1.35, clip_on=False,
                    solid_capstyle="butt", solid_joinstyle="round")

        ax.set_xlim(x_left, hi)
        ax.set_ylim(0, 1.06 * max(y_wo.max(), y_w.max()))
        ax.set_yticks([])
        ax.set_xticks(X_TICKS[crop])
        is_last = ri == len(VARIABLES) - 1
        ax.set_xticklabels(X_TICK_LABELS[crop] if is_last else [],
                           family=SERIF, fontsize=8.8, color="#4D4D4D")
        ax.tick_params(axis="x", direction="out", length=3, width=0.9,
                       color="#333333", pad=2)

        text = RICE_MINTEMP_LABEL if (crop == "Rice" and ri == 1) else var
        fig.text(left_px / W, 1 - label_y / H, text, ha="left", va="center",
                 fontsize=5.6, fontweight="bold", family=SERIF)

# axis titles
fig.text(648 / W, 1 - 829 / H, "Out-of-sample R-squared", ha="center",
         va="center", fontsize=17.3, fontweight="bold", family=SANS)
fig.text(23 / W, 1 - 410 / H, "Density", ha="center", va="center",
         rotation=90, fontsize=16.5, fontweight="bold", family=SANS)

# legend
legend_items = [("with", "#E8999B"), ("without", "#B8BBBF")]
for i, (name, col) in enumerate(legend_items):
    y0 = 815 + 24.5 * i
    fig.patches.append(Rectangle((115 / W, 1 - (y0 + 23) / H), 22 / W, 23 / H,
                                 transform=fig.transFigure, facecolor=col,
                                 edgecolor="#333333", lw=1.4))
    fig.text(146 / W, 1 - (y0 + 12) / H, name, ha="left", va="center",
             fontsize=12, family=SERIF)

fig.savefig("out.png", dpi=100, facecolor="white")
